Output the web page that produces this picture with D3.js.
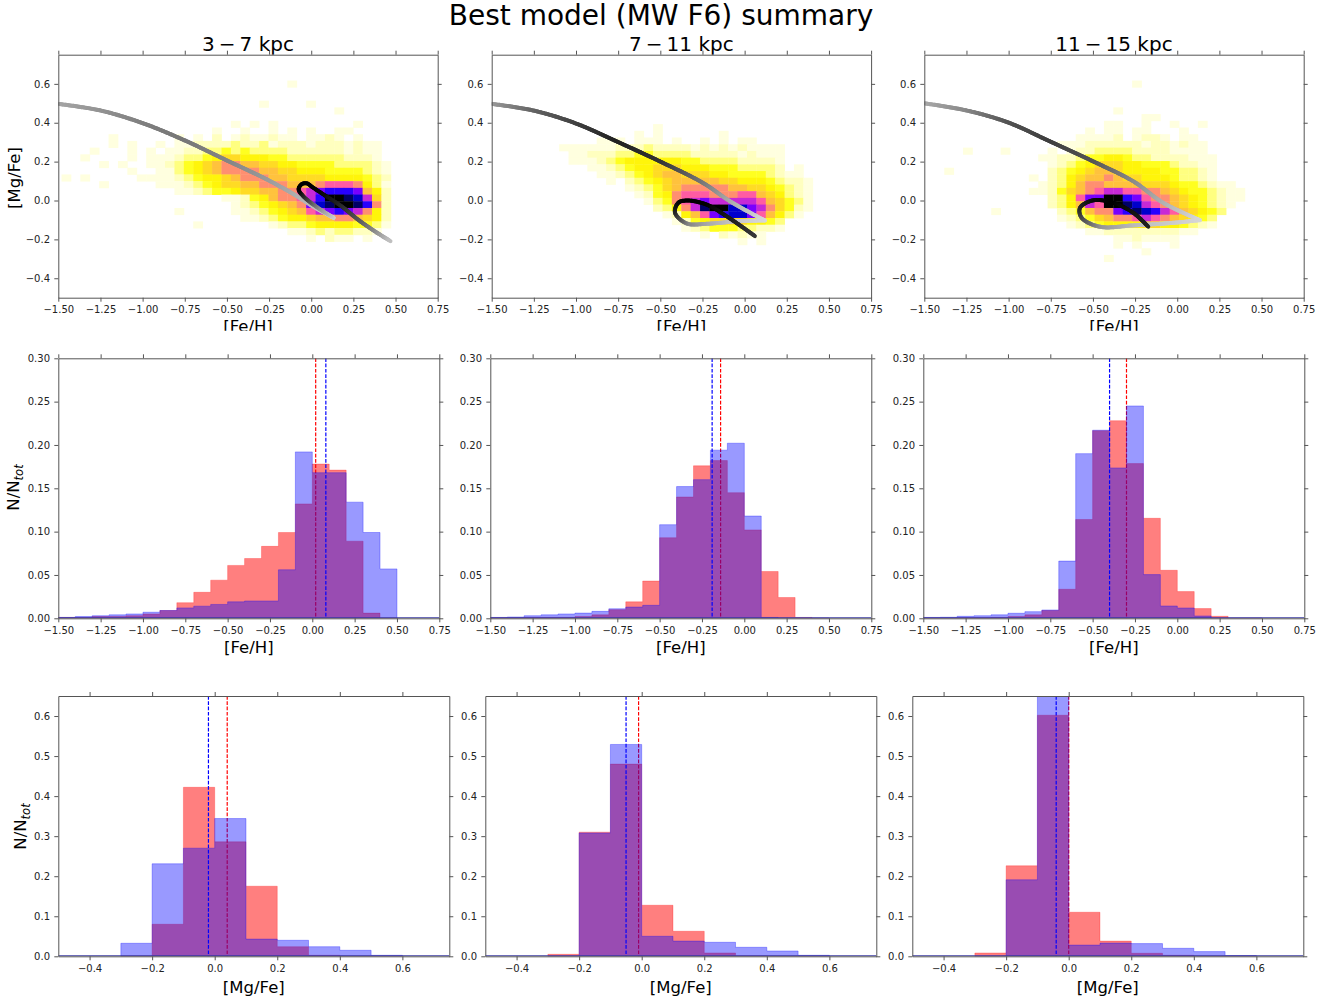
<!DOCTYPE html>
<html>
<head>
<meta charset="utf-8">
<script src="https://cdn.jsdelivr.net/npm/d3@7"></script>
<style>
  body { margin: 0; background: #fff; }
  svg { display: block; }
  text { font-family: "DejaVu Sans", sans-serif; }
</style>
</head>
<body>
<svg id="chart" width="1343" height="1001"></svg>
<script>
// ---------------------------------------------------------------------------
// Data
// ---------------------------------------------------------------------------
const figTitle = "Best model (MW F6) summary";
const regions = ["3\u2009\u2212\u20097 kpc", "7\u2009\u2212\u200911 kpc", "11\u2009\u2212\u200915 kpc"];

// [Fe/H] histogram bins (left edges, width 0.1)
const fehBinEdges = [-1.5, -1.4, -1.3, -1.2, -1.1, -1.0, -0.9, -0.8, -0.7, -0.6, -0.5,
                     -0.4, -0.3, -0.2, -0.1, 0.0, 0.1, 0.2, 0.3, 0.4, 0.5];
// normalised counts, red = observed stars, blue = model
const fehObs3to7   = [0.001, 0.001, 0.002, 0.002, 0.003, 0.005, 0.009, 0.018, 0.030, 0.044,
                      0.061, 0.069, 0.083, 0.099, 0.132, 0.178, 0.171, 0.089, 0.006, 0.000];
const fehModel3to7 = [0.001, 0.002, 0.003, 0.004, 0.005, 0.007, 0.009, 0.012, 0.014, 0.016,
                      0.019, 0.020, 0.020, 0.056, 0.192, 0.168, 0.168, 0.134, 0.099, 0.057];
const fehObs7to11   = [0.0005, 0.0005, 0.001, 0.001, 0.001, 0.002, 0.004, 0.010, 0.019, 0.043,
                       0.093, 0.140, 0.176, 0.182, 0.145, 0.102, 0.054, 0.024, 0.001, 0.000];
const fehModel7to11 = [0.001, 0.0015, 0.003, 0.004, 0.005, 0.006, 0.008, 0.011, 0.013, 0.015,
                       0.108, 0.152, 0.160, 0.194, 0.202, 0.118, 0.001, 0.000, 0.000, 0.000];
const fehObs11to15   = [0.0003, 0.0003, 0.0005, 0.0005, 0.001, 0.002, 0.004, 0.009, 0.0335, 0.114,
                        0.2165, 0.228, 0.1785, 0.1154, 0.0554, 0.0308, 0.0112, 0.0023, 0.000, 0.000];
const fehModel11to15 = [0.001, 0.0012, 0.0023, 0.003, 0.004, 0.0058, 0.0077, 0.0096, 0.066, 0.190,
                        0.217, 0.1735, 0.245, 0.0504, 0.0142, 0.0119, 0.0027, 0.000, 0.000, 0.000];
const fehMeanObs   = [0.02, -0.14, -0.30];
const fehMeanModel = [0.08, -0.19, -0.40];

// [Mg/Fe] histogram bins (left edges, width 0.1)
const mgBinEdges = [-0.3, -0.2, -0.1, 0.0, 0.1, 0.2, 0.3, 0.4, 0.5, 0.6];
const mgObs3to7     = [0.000, 0.080, 0.422, 0.286, 0.175, 0.024, 0.0025, 0.000, 0.000];
const mgModel3to7   = [0.0325, 0.231, 0.270, 0.344, 0.043, 0.040, 0.024, 0.015, 0.0025];
const mgObs7to11    = [0.005, 0.310, 0.480, 0.1275, 0.0625, 0.0083, 0.001, 0.000, 0.000];
const mgModel7to11  = [0.000, 0.308, 0.529, 0.050, 0.038, 0.035, 0.0225, 0.0133, 0.0025];
const mgObs11to15   = [0.0083, 0.226, 0.602, 0.110, 0.038, 0.0075, 0.0025, 0.000, 0.000];
const mgModel11to15 = [0.000, 0.191, 0.680, 0.028, 0.033, 0.0317, 0.020, 0.0117, 0.0017];
const mgMeanObs   = [0.04, -0.01, 0.00];
const mgMeanModel = [-0.02, -0.05, -0.04];

// 2D star-count density in the [Fe/H]-[Mg/Fe] plane, one character per cell
// (rows from high to low [Mg/Fe]); see densityLevels for the code.
const densityLevels = {".": 0, "1": 0.01, "2": 0.02, "3": 0.04, "4": 0.07, "5": 0.10,
                       "6": 0.15, "7": 0.20, "8": 0.30, "9": 0.40, "a": 0.50, "b": 0.60,
                       "c": 0.70, "d": 0.80, "e": 0.90, "f": 1.00};
const densityBins = [
  {fehStart: -1.481, fehStep: 0.0558, mgTop: 0.617, mgStep: 0.0345},
  {fehStart: -1.100, fehStep: 0.0557, mgTop: 0.393, mgStep: 0.0345},
  {fehStart: -1.493, fehStep: 0.0557, mgTop: 0.617, mgStep: 0.0345}
];
const density3to7 = [
  "..... ..... ..... ..... ....1 ..... .....",
  "..... ..... ..... ..... ..... ..... .....",
  "..... ..... ..... ..... ..... ..... .....",
  "..... ..... ..... ..... .1... .1... .....",
  "..... ..... ..... ..... ..... ....1 .....",
  "..... ..... ..... ..... ..... ..... .....",
  "..... ..... ..... ...1. 1.1.. ..... .1...",
  "..... ..... ..... .1..1 ..1.1 .1..1 1....",
  "..... 1.... ..1.1 .2.12 11211 .1121 .1...",
  "..... 1.1.. 1.112 22232 23122 21222 1211.",
  "...1. ..1.1 .1122 33434 33332 22222 1211.",
  "..1.. ..1.1 11233 45665 55443 33333 2221.",
  "....1 .1..1 12345 67887 76655 44443 33321",
  "..... ..1.. 11345 67888 87766 55544 44321",
  "1.1.. ...11 11234 55678 88776 66655 55432",
  "....1 ..... 11123 45667 78887 77899 98531",
  "..... ..... ..112 34456 67788 9abcc cb752",
  "..... ..... ..... ..112 45788 9acff eda62",
  "..... ..... ..... ...12 34567 8bdef fec82",
  "..... ..... ..1.. ...11 23456 79abc ba852",
  "..... ..... ..... ....1 12345 56778 87652",
  "..... ..... ....1 ..... ..123 34555 54431",
  "..... ..... ..... ..... ....1 12323 3221.",
  "..... ..... ..... ..... ..... .1.21 1.1.."
];
const density7to11 = [
  "..... ..... 1.... ..... ..... ...",
  "..... ...1. 1.... ..1.. ..... ...",
  "....1 11.11 1.1.. 1.1.1 1.... ...",
  "11111 12223 22221 21212 1111. ...",
  ".1122 23344 33332 22221 2111. ...",
  ".1112 34555 55544 33332 2221. ...",
  "...11 23455 66655 54443 3332. 1..",
  "....1 12345 67766 65544 44321 1..",
  "..... 1.234 56777 77665 55432 21.",
  "..... ..123 46788 88877 66543 21.",
  "..... ...12 45899 98889 97653 21.",
  "..... ....1 3489a baaaa a9764 31.",
  "..... ..... 2358a effdd ba864 21.",
  "..... ..... .1257 9bcdd b9753 1..",
  "..... ..... ..124 56666 5543. ...",
  "..... ..... ...12 34443 3221. ...",
  "..... ..... ..... 1.212 11... ...",
  "..... ..... ..... ....1 .1... ..."
];
const density11to15 = [
  "..... ..... ..... ..... ..1.. ..... .....",
  "..... ..... ..... ..... ..... ..... .....",
  "..... ..... ..... ..... ..... ..... .....",
  "..... ..... ..... ..... ..... ..... .....",
  "..... ..... ..... ..... 1.... ..... .....",
  "..... ..... ..... ..... ...11 ..... .....",
  "..... ..... ..... ....1 1..1. .1..1 .....",
  "..... ..... ..... ..1.1 1.11. ..1.. .....",
  "..... ..... ..... .1111 2.122 1.11. .....",
  "..... ..... ....1 11222 22212 21211 .....",
  "....1 ...1. ...1. 12233 33222 21111 .....",
  "..... ..... ..112 23445 54332 22211 1....",
  "..... ..... ...12 34566 65544 43221 1....",
  "..1.. ..... ...23 45677 65555 44332 1....",
  "..... ..... .1.23 56778 76655 54332 1....",
  "..... ..... ..123 57887 77766 65443 211..",
  "..... ..... .1124 6789a a9988 76544 3211.",
  "..... ..... ...23 59bbf fcb98 87654 3211.",
  "..... ..... ...23 57a9f feda9 87654 321..",
  "..... ..1.. ....2 34788 bcedc a9765 43...",
  "..... ..... ....1 23467 889a9 87654 3....",
  "..... ..... ..... 12345 55566 55432 1....",
  "..... ..... ..... ..112 22222 2211. .....",
  "..... ..... ..... ..... 11211 11... .....",
  "..... ..... ..... ..... 1.1.. .1... .....",
  "..... ..... ..... ..... ...1. ..... .....",
  "..... ..... ..... ....1 ..... ..... ....."
];

// Model gas evolution tracks: [Fe/H], [Mg/Fe], relative weight (0 light .. 1 dark)
const track3to7 = [
  [-1.50, 0.497, 0.25], [-1.25, 0.463, 0.33], [-1.00, 0.398, 0.42], [-0.76, 0.313, 0.46],
  [-0.50, 0.206, 0.40], [-0.26, 0.107, 0.30], [-0.10, 0.030, 0.22], [0.01, -0.030, 0.15],
  [0.133, -0.089, 0.05],
  [0.04, -0.038, 0.35], [-0.047, 0.022, 0.80], [-0.075, 0.058, 1.00], [-0.055, 0.085, 1.00],
  [-0.025, 0.088, 1.00], [0.005, 0.070, 1.00], [0.08, 0.027, 0.95], [0.18, -0.030, 0.82],
  [0.28, -0.100, 0.62], [0.38, -0.160, 0.38], [0.47, -0.209, 0.12]
];
const track7to11 = [
  [-1.50, 0.497, 0.30], [-1.253, 0.463, 0.54], [-1.006, 0.398, 0.70], [-0.759, 0.304, 0.85],
  [-0.502, 0.201, 0.77], [-0.246, 0.090, 0.46], [-0.087, -0.004, 0.23], [0.120, -0.103, 0.02],
  [-0.028, -0.106, 0.07], [-0.226, -0.120, 0.23], [-0.344, -0.118, 0.40], [-0.413, -0.063, 0.80],
  [-0.394, -0.012, 0.95], [-0.344, 0.000, 1.00], [-0.226, -0.021, 1.00], [-0.107, -0.081, 0.90],
  [0.061, -0.183, 0.75]
];
const track11to15 = [
  [-1.50, 0.500, 0.23], [-1.249, 0.463, 0.38], [-1.002, 0.401, 0.62], [-0.755, 0.304, 0.72],
  [-0.498, 0.201, 0.62], [-0.261, 0.099, 0.38], [-0.083, -0.012, 0.20], [0.134, -0.101, 0.02],
  [-0.024, -0.115, 0.07], [-0.261, -0.128, 0.15], [-0.459, -0.135, 0.32], [-0.567, -0.089, 0.65],
  [-0.577, -0.038, 0.82], [-0.498, 0.001, 0.95], [-0.380, -0.012, 1.00], [-0.261, -0.063, 0.92],
  [-0.172, -0.135, 0.85]
];

// tick values
const fehTicks = [-1.5, -1.25, -1.0, -0.75, -0.5, -0.25, 0.0, 0.25, 0.5, 0.75];
const mgTicksTop = [-0.4, -0.2, 0.0, 0.2, 0.4, 0.6];
const fracTicksMid = [0.0, 0.05, 0.10, 0.15, 0.20, 0.25, 0.30];
const mgTicksBottom = [-0.4, -0.2, 0.0, 0.2, 0.4, 0.6];
const fracTicksBottom = [0.0, 0.1, 0.2, 0.3, 0.4, 0.5, 0.6];

const densityGrids = [density3to7, density7to11, density11to15];
const tracks = [track3to7, track7to11, track11to15];
const fehHists = [[fehObs3to7, fehModel3to7], [fehObs7to11, fehModel7to11], [fehObs11to15, fehModel11to15]];
const mgHists = [[mgObs3to7, mgModel3to7], [mgObs7to11, mgModel7to11], [mgObs11to15, mgModel11to15]];

// ---------------------------------------------------------------------------
// Layout & style
// ---------------------------------------------------------------------------
const svg = d3.select("#chart");
const spineColor = "#555";
const tickText = "#222";
const obsColor = "#ff0000", modelColor = "#0000ff";

const rows = {
  top:    {y0: 54.7,  h: 243.0, xs: [58.3, 491.7, 924.3], w: 379.4},
  middle: {y0: 358.3, h: 260.0, xs: [58.3, 490.3, 923.3], w: 381.0},
  bottom: {y0: 696.0, h: 260.3, xs: [58.3, 485.3, 912.3], w: 391.0}
};

// matplotlib "gnuplot2" colour map, reversed
function gnuplot2(t) {
  const c = v => Math.max(0, Math.min(1, v));
  const r = c(t / 0.32 - 0.78125);
  const g = c(2 * t - 0.84);
  let b = t < 0.25 ? 4 * t : (t < 0.92 ? -2 * t + 1.84 : t / 0.08 - 11.5);
  b = c(b);
  return d3.rgb(r * 255, g * 255, b * 255).formatHex();
}
const densityColor = v => gnuplot2(1 - v);
const trackColor = d3.interpolateRgb("#dcdcdc", "#000000");

// ---------------------------------------------------------------------------
// Titles (drawn first so that the axes backgrounds sit on top of them)
// ---------------------------------------------------------------------------
svg.append("text").attr("x", 661).attr("y", 25).attr("text-anchor", "middle")
  .style("font-size", "28px").attr("fill", "#000").text(figTitle);
regions.forEach((r, i) => {
  const row = rows.top;
  svg.append("text").attr("x", row.xs[i] + row.w / 2).attr("y", 51)
    .attr("text-anchor", "middle").style("font-size", "20px").attr("fill", "#000").text(r);
});

let clipId = 0;
function makePanel(row, i, xDomain, yDomain) {
  const x0 = row.xs[i], y0 = row.y0, w = row.w, h = row.h;
  const x = d3.scaleLinear().domain(xDomain).range([x0, x0 + w]);
  const y = d3.scaleLinear().domain(yDomain).range([y0 + h, y0]);
  const g = svg.append("g");
  g.append("rect").attr("x", x0).attr("y", y0).attr("width", w).attr("height", h).attr("fill", "#fff");
  const id = "clip" + (clipId++);
  svg.append("clipPath").attr("id", id).append("rect")
    .attr("x", x0).attr("y", y0).attr("width", w).attr("height", h);
  const plot = g.append("g").attr("clip-path", `url(#${id})`);
  return {x, y, g, plot, x0, y0, w, h};
}

function drawAxes(p, xTicks, yTicks, xFmt, yFmt) {
  const style = sel => {
    sel.select("path.domain").attr("stroke", spineColor).attr("stroke-width", 1);
    sel.selectAll(".tick line").attr("stroke", spineColor).attr("stroke-width", 1);
    sel.selectAll(".tick text").attr("fill", tickText).style("font-size", "10px")
      .style("font-family", "'DejaVu Sans', sans-serif");
    sel.attr("font-family", null).attr("font-size", null);
  };
  p.g.append("g").attr("transform", `translate(0,${p.y0 + p.h})`)
    .call(d3.axisBottom(p.x).tickValues(xTicks).tickFormat(d3.format(xFmt))
      .tickSize(4).tickSizeOuter(0).tickPadding(4.5)).call(style);
  p.g.append("g").attr("transform", `translate(0,${p.y0})`)
    .call(d3.axisTop(p.x).tickValues(xTicks).tickFormat("").tickSize(4).tickSizeOuter(0)).call(style);
  p.g.append("g").attr("transform", `translate(${p.x0},0)`)
    .call(d3.axisLeft(p.y).tickValues(yTicks).tickFormat(d3.format(yFmt))
      .tickSize(4).tickSizeOuter(0).tickPadding(4.3)).call(style);
  p.g.append("g").attr("transform", `translate(${p.x0 + p.w},0)`)
    .call(d3.axisRight(p.y).tickValues(yTicks).tickFormat("").tickSize(4).tickSizeOuter(0)).call(style);
}

function xLabel(p, text, baseline) {
  return svg.append("text").attr("x", p.x0 + p.w / 2).attr("y", baseline)
    .attr("text-anchor", "middle").style("font-size", "16.5px").attr("fill", "#000").text(text);
}

function fracLabel(x, yc) {
  const t = svg.append("text").attr("transform", `translate(${x},${yc}) rotate(-90)`)
    .attr("text-anchor", "middle").style("font-size", "16.5px").attr("fill", "#000");
  t.append("tspan").text("N/N");
  t.append("tspan").attr("dy", 4).style("font-size", "11.5px").style("font-style", "italic").text("tot");
}

// smooth track coloured by weight along its length
function drawTrack(p, pts) {
  let tip = -1;
  for (let i = 1; i < pts.length - 1; i++) {
    if (pts[i][0] > pts[i + 1][0] && pts[i][0] >= pts[i - 1][0]) { tip = i; break; }
  }
  const pieces = tip > 0 ? [pts.slice(0, tip + 1), pts.slice(tip)] : [pts];
  const line = d3.line().curve(d3.curveCatmullRom.alpha(0.5));
  const layer = p.plot.append("g");
  pieces.forEach(piece => {
    const px = piece.map(d => [p.x(d[0]), p.y(d[1])]);
    const cum = [0];
    for (let i = 1; i < px.length; i++) cum.push(cum[i - 1] + Math.hypot(px[i][0] - px[i - 1][0], px[i][1] - px[i - 1][1]));
    const chordTotal = cum[cum.length - 1];
    const path = layer.append("path").attr("d", line(px)).attr("fill", "none").attr("stroke", "none");
    const node = path.node();
    const L = node.getTotalLength();
    const n = Math.max(2, Math.ceil(L / 1.5));
    let prev = node.getPointAtLength(0);
    for (let s = 1; s <= n; s++) {
      const l = L * s / n;
      const pt = node.getPointAtLength(l);
      const f = ((l - L / (2 * n)) / L) * chordTotal;
      let k = 0;
      while (k < cum.length - 2 && cum[k + 1] < f) k++;
      const seg = cum[k + 1] - cum[k];
      const u = seg > 0 ? Math.max(0, Math.min(1, (f - cum[k]) / seg)) : 0;
      const wgt = piece[k][2] + (piece[k + 1][2] - piece[k][2]) * u;
      layer.append("line").attr("x1", prev.x).attr("y1", prev.y).attr("x2", pt.x).attr("y2", pt.y)
        .attr("stroke", trackColor(wgt)).attr("stroke-width", 4).attr("stroke-linecap", "round");
      prev = pt;
    }
    path.remove();
  });
}

function stepPath(p, edges, values) {
  let d = `M${p.x(edges[0])},${p.y(0)}`;
  values.forEach((v, i) => {
    d += `L${p.x(edges[i])},${p.y(v)}L${p.x(edges[i + 1])},${p.y(v)}`;
  });
  d += `L${p.x(edges[values.length])},${p.y(0)}Z`;
  return d;
}

function drawHistPanel(p, edges, obs, model, meanObs, meanModel) {
  p.plot.append("path").attr("d", stepPath(p, edges, obs))
    .attr("fill", obsColor).attr("fill-opacity", 0.5)
    .attr("stroke", obsColor).attr("stroke-opacity", 0.25).attr("stroke-width", 1);
  p.plot.append("line").attr("x1", p.x(meanObs)).attr("x2", p.x(meanObs))
    .attr("y1", p.y0).attr("y2", p.y0 + p.h)
    .attr("stroke", obsColor).attr("stroke-width", 1.2).attr("stroke-dasharray", "3.7,1.6");
  p.plot.append("path").attr("d", stepPath(p, edges, model))
    .attr("fill", modelColor).attr("fill-opacity", 0.4)
    .attr("stroke", modelColor).attr("stroke-opacity", 0.3).attr("stroke-width", 1);
  p.plot.append("line").attr("x1", p.x(meanModel)).attr("x2", p.x(meanModel))
    .attr("y1", p.y0).attr("y2", p.y0 + p.h)
    .attr("stroke", modelColor).attr("stroke-width", 1.2).attr("stroke-dasharray", "3.7,1.6");
  p.plot.append("line").attr("x1", p.x0).attr("x2", p.x0 + p.w)
    .attr("y1", p.y(0) - 0.5).attr("y2", p.y(0) - 0.5)
    .attr("stroke", "#3b3ba0").attr("stroke-width", 1.2);
}

// ---------------------------------------------------------------------------
// Top row: density maps + evolution tracks
// ---------------------------------------------------------------------------
svg.append("clipPath").attr("id", "topLabelClip")
  .append("rect").attr("x", 0).attr("y", 300).attr("width", 1343).attr("height", 30.7);

for (let i = 0; i < 3; i++) {
  const p = makePanel(rows.top, i, [-1.5, 0.75], [-0.5, 0.75]);
  const bins = densityBins[i];
  const cells = [];
  densityGrids[i].forEach((rowStr, r) => {
    rowStr.replace(/ /g, "").split("").forEach((ch, k) => {
      const v = densityLevels[ch];
      if (v > 0) cells.push({k, r, v});
    });
  });
  p.plot.append("g").selectAll("rect").data(cells).join("rect")
    .attr("x", d => p.x(bins.fehStart + d.k * bins.fehStep))
    .attr("y", d => p.y(bins.mgTop - d.r * bins.mgStep))
    .attr("width", d => p.x(bins.fehStart + (d.k + 1) * bins.fehStep) - p.x(bins.fehStart + d.k * bins.fehStep) + 0.4)
    .attr("height", d => p.y(bins.mgTop - (d.r + 1) * bins.mgStep) - p.y(bins.mgTop - d.r * bins.mgStep) + 0.4)
    .attr("fill", d => densityColor(d.v));
  drawTrack(p, tracks[i]);
  drawAxes(p, fehTicks, mgTicksTop, ".2f", ".1f");
  xLabel(p, "[Fe/H]", 331.8).attr("clip-path", "url(#topLabelClip)");
  if (i === 0) {
    svg.append("text").attr("transform", "translate(19.6,178) rotate(-90)")
      .attr("text-anchor", "middle").style("font-size", "16.5px").attr("fill", "#000").text("[Mg/Fe]");
  }
}

// ---------------------------------------------------------------------------
// Middle row: [Fe/H] distributions
// ---------------------------------------------------------------------------
for (let i = 0; i < 3; i++) {
  const p = makePanel(rows.middle, i, [-1.5, 0.75], [0, 0.30]);
  drawHistPanel(p, fehBinEdges, fehHists[i][0], fehHists[i][1], fehMeanObs[i], fehMeanModel[i]);
  drawAxes(p, fehTicks, fracTicksMid, ".2f", ".2f");
  xLabel(p, "[Fe/H]", 652.5);
  if (i === 0) fracLabel(19, 487.5);
}

// ---------------------------------------------------------------------------
// Bottom row: [Mg/Fe] distributions
// ---------------------------------------------------------------------------
for (let i = 0; i < 3; i++) {
  const p = makePanel(rows.bottom, i, [-0.5, 0.75], [0, 0.65]);
  drawHistPanel(p, mgBinEdges, mgHists[i][0], mgHists[i][1], mgMeanObs[i], mgMeanModel[i]);
  drawAxes(p, mgTicksBottom, fracTicksBottom, ".1f", ".1f");
  xLabel(p, "[Mg/Fe]", 992.5);
  if (i === 0) fracLabel(26, 826.5);
}
</script>
</body>
</html>
